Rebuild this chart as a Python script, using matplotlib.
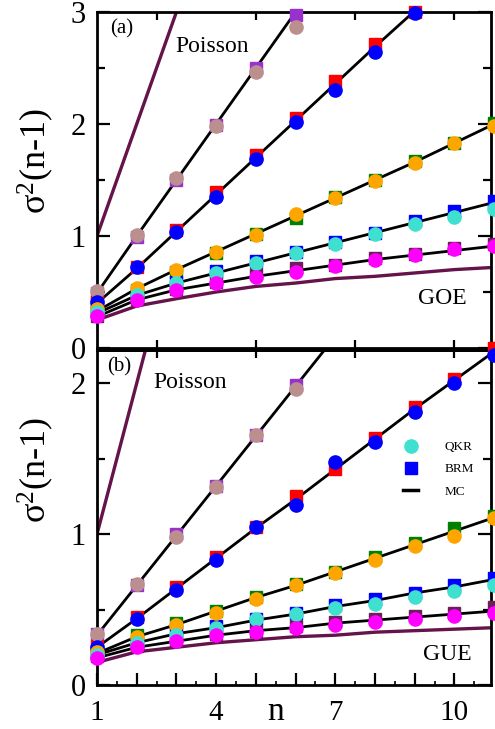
import matplotlib
matplotlib.use("Agg")
import matplotlib.pyplot as plt
from matplotlib.lines import Line2D
from matplotlib.ticker import MultipleLocator, FixedLocator, FuncFormatter

plt.rcParams['font.family'] = ['Liberation Serif', 'DejaVu Serif']
plt.rcParams['mathtext.fontset'] = 'custom'
plt.rcParams['mathtext.rm'] = 'Liberation Serif'
plt.rcParams['mathtext.it'] = 'Liberation Serif:italic'

# ---------------- data ----------------
n = [1, 2, 3, 4, 5, 6, 7, 8, 9, 10, 11]
poisson_n = [1, 12]
poisson_y = [1, 12]

# panel (a) GOE
goe_ref = [0.25, 0.375, 0.44, 0.50, 0.55, 0.58, 0.62, 0.64, 0.67, 0.70, 0.72]
a_mc = [
    [0.49, 1.00, 1.50, 2.00, 2.50, 3.00, 3.50, 4.00, 4.50, 5.00, 5.50],
    [0.40, 0.71, 1.04, 1.37, 1.70, 2.03, 2.36, 2.69, 3.01, 3.34, 3.67],
    [0.33, 0.53, 0.70, 0.86, 1.02, 1.18, 1.34, 1.50, 1.66, 1.83, 2.00],
    [0.31, 0.47, 0.58, 0.67, 0.76, 0.85, 0.94, 1.03, 1.12, 1.21, 1.30],
    [0.28, 0.43, 0.52, 0.58, 0.64, 0.69, 0.74, 0.79, 0.83, 0.87, 0.91],
]
a_qkr = [
    [0.51, 1.01, 1.52, 1.98, 2.46, 2.87],
    [0.41, 0.72, 1.04, 1.35, 1.69, 2.02, 2.30, 2.64, 2.99],
    [0.35, 0.54, 0.70, 0.86, 1.01, 1.20, 1.34, 1.49, 1.65, 1.83, 1.98],
    [0.32, 0.47, 0.58, 0.67, 0.76, 0.85, 0.93, 1.02, 1.11, 1.17, 1.24],
    [0.29, 0.43, 0.52, 0.58, 0.63, 0.68, 0.73, 0.79, 0.83, 0.88, 0.91],
]
a_brm = [
    [0.49, 0.99, 1.50, 1.99, 2.50, 2.97],
    [0.41, 0.72, 1.05, 1.39, 1.72, 2.05, 2.38, 2.71, 3.00],
    [0.33, 0.52, 0.68, 0.85, 1.02, 1.16, 1.35, 1.50, 1.67, 1.83, 2.01],
    [0.33, 0.47, 0.59, 0.69, 0.78, 0.86, 0.95, 1.03, 1.13, 1.22, 1.31],
    [0.29, 0.44, 0.53, 0.59, 0.66, 0.71, 0.74, 0.80, 0.84, 0.89, 0.93],
]

# panel (b) GUE
gue_ref = [0.15, 0.22, 0.25, 0.28, 0.30, 0.32, 0.33, 0.35, 0.36, 0.37, 0.38]
b_mc = [
    [0.33, 0.66, 0.99, 1.32, 1.65, 1.98, 2.31, 2.64, 2.97, 3.30, 3.63],
    [0.25, 0.44, 0.64, 0.84, 1.04, 1.23, 1.43, 1.63, 1.83, 2.02, 2.21],
    [0.21, 0.32, 0.40, 0.49, 0.58, 0.66, 0.75, 0.84, 0.93, 1.02, 1.11],
    [0.20, 0.28, 0.34, 0.38, 0.43, 0.47, 0.52, 0.56, 0.61, 0.65, 0.70],
    [0.18, 0.25, 0.29, 0.33, 0.36, 0.38, 0.41, 0.43, 0.45, 0.47, 0.49],
]
b_qkr = [
    [0.34, 0.67, 0.98, 1.31, 1.66, 1.96],
    [0.25, 0.44, 0.63, 0.83, 1.05, 1.19, 1.48, 1.61, 1.81, 2.00, 2.19],
    [0.22, 0.32, 0.40, 0.48, 0.57, 0.66, 0.74, 0.83, 0.92, 0.99, 1.11],
    [0.20, 0.28, 0.33, 0.38, 0.44, 0.47, 0.51, 0.54, 0.58, 0.62, 0.66],
    [0.18, 0.25, 0.29, 0.33, 0.35, 0.38, 0.40, 0.42, 0.44, 0.46, 0.48],
]
b_brm = [
    [0.34, 0.66, 1.00, 1.32, 1.66, 1.99],
    [0.26, 0.45, 0.65, 0.85, 1.05, 1.25, 1.43, 1.64, 1.84, 2.03, 2.23],
    [0.22, 0.33, 0.41, 0.49, 0.58, 0.67, 0.75, 0.85, 0.94, 1.04, 1.12],
    [0.21, 0.28, 0.35, 0.39, 0.44, 0.48, 0.53, 0.57, 0.61, 0.66, 0.71],
    [0.19, 0.26, 0.30, 0.34, 0.36, 0.39, 0.42, 0.44, 0.46, 0.48, 0.52],
]

qkr_colors = ['#bc8f8f', '#0000ff', '#ffa500', '#40e0d0', '#ff00ff']
brm_colors = ['#9932cc', '#ff0000', '#008000', '#0000ff', '#6e1e5a']
theory_color = '#64144a'

# ---------------- figure ----------------
W, H = 495, 729
fig = plt.figure(figsize=(W / 100, H / 100), dpi=100)

def frac_box(l, t, r, b):
    return [l / W, 1 - b / H, (r - l) / W, (b - t) / H]

ax1 = fig.add_axes(frac_box(97, 12, 491, 348))
ax2 = fig.add_axes(frac_box(97, 350, 491, 685))

XMAX = 10.92


def draw_panel(ax, mc, qkr, brm, ref):
    ax.plot(poisson_n, poisson_y, color=theory_color, lw=2.4, zorder=2)
    ax.plot(n, ref, color=theory_color, lw=2.4, zorder=2)
    for y in mc:
        ax.plot(n[:len(y)], y, color='black', lw=2.0, zorder=3)
    for y, c in zip(brm, brm_colors):
        ax.plot(n[:len(y)], y, ls='none', marker='s', ms=8, color=c,
                mec=c, zorder=4, clip_on=False)
    for y, c in zip(qkr, qkr_colors):
        ax.plot(n[:len(y)], y, ls='none', marker='o', ms=9.5, color=c,
                mec=c, zorder=5, clip_on=False)
    ax.set_xlim(1, XMAX)
    for s in ax.spines.values():
        s.set_linewidth(2.0)
    ax.yaxis.set_major_locator(MultipleLocator(1))
    ax.yaxis.set_minor_locator(MultipleLocator(0.5))
    ax.tick_params(axis='y', which='both', direction='in', left=True,
                   right=True, width=1.6, labelsize=22, pad=8)
    ax.tick_params(axis='y', which='major', length=9.5)
    ax.tick_params(axis='y', which='minor', length=6)


draw_panel(ax1, a_mc, a_qkr, a_brm, goe_ref)
draw_panel(ax2, b_mc, b_qkr, b_brm, gue_ref)

ax1.set_ylim(0, 3)
ax2.set_ylim(0, 2.22)

# panel (a) x ticks: every 2.5, top and bottom, no labels
ax1.xaxis.set_major_locator(FixedLocator([2.5, 5, 7.5, 10]))
ax1.tick_params(axis='x', which='major', direction='in', top=True,
                bottom=True, length=6, width=1.6, labelbottom=False)

# panel (b) bottom: integer ticks, labels at 1,4,7,10
ax2.xaxis.set_major_locator(MultipleLocator(1))
ax2.xaxis.set_minor_locator(MultipleLocator(0.5))
shown = {1, 4, 7, 10}
ax2.xaxis.set_major_formatter(FuncFormatter(
    lambda v, p: str(int(round(v))) if int(round(v)) in shown else ''))
ax2.tick_params(axis='x', which='major', direction='in', length=9,
                width=1.6, labelsize=21, pad=11, top=False)
ax2.tick_params(axis='x', which='minor', direction='in', length=3,
                width=1.2, top=False)
sec = ax2.secondary_xaxis('top')
sec.set_xticks([2.5, 5, 7.5, 10])
sec.tick_params(direction='in', length=6, width=1.6, labeltop=False)
sec.spines['top'].set_linewidth(2.0)

# texts
ax1.text(0.033, 0.95, '(a)', transform=ax1.transAxes, fontsize=15,
         ha='left', va='center')
ax1.text(0.198, 0.896, 'Poisson', transform=ax1.transAxes, fontsize=17,
         ha='left', va='center')
ax1.text(0.815, 0.146, 'GOE', transform=ax1.transAxes, fontsize=17,
         ha='left', va='center')
ax2.text(0.025, 0.949, '(b)', transform=ax2.transAxes, fontsize=15,
         ha='left', va='center')
ax2.text(0.142, 0.904, 'Poisson', transform=ax2.transAxes, fontsize=17,
         ha='left', va='center')
ax2.text(0.827, 0.09, 'GUE', transform=ax2.transAxes, fontsize=17,
         ha='left', va='center')

ylab = r'σ$^{\mathrm{2}}$(n-1)'
fig.text(36 / W, 1 - 161 / H, ylab, rotation=90, fontsize=26,
         ha='center', va='center')
fig.text(36 / W, 1 - 470 / H, ylab, rotation=90, fontsize=26,
         ha='center', va='center')
fig.text(276 / W, 2 / H, 'n', fontsize=24, ha='center', va='bottom')

handles = [
    Line2D([], [], ls='none', marker='o', ms=9.5, color='#40e0d0'),
    Line2D([], [], ls='none', marker='s', ms=8, color='#0000ff'),
    Line2D([], [], color='black', lw=2.5),
]
ax2.legend(handles, ['QKR', 'BRM', 'MC'], loc='upper left',
           bbox_to_anchor=(0.777, 0.728), frameon=False, fontsize=9.5,
           handlelength=1.15, handletextpad=2.0, labelspacing=0.75,
           borderpad=0, borderaxespad=0)

fig.savefig('out.png', dpi=100)
